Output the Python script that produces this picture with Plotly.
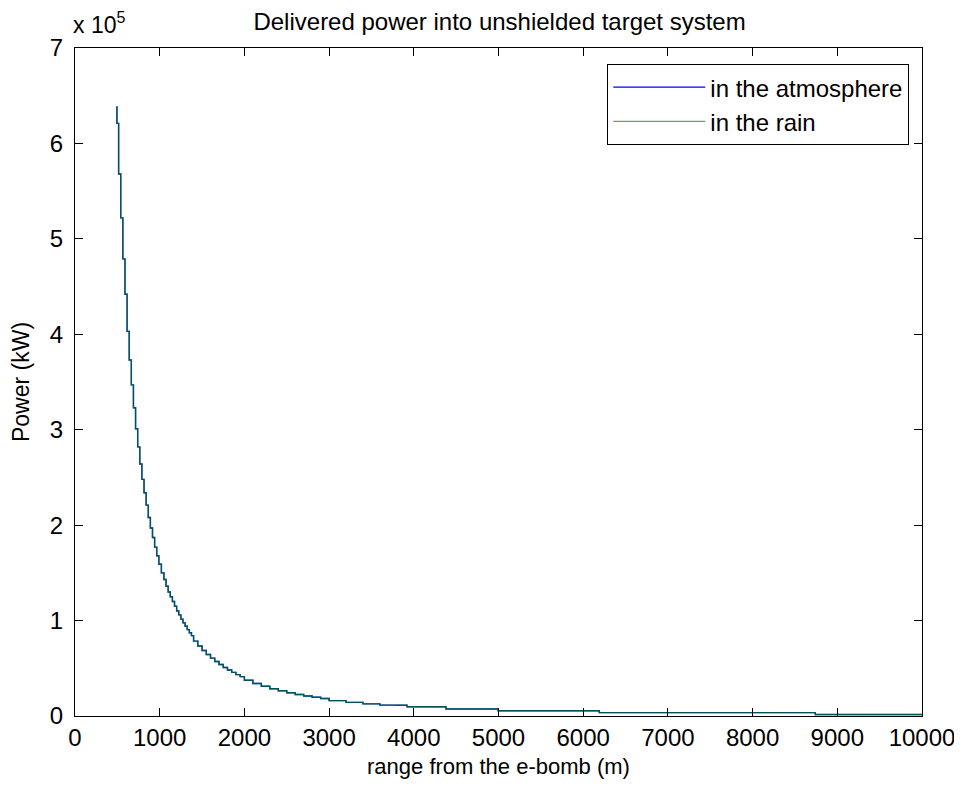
import plotly.graph_objects as go

# Range from the e-bomb (m) (stepped, quantised curve)
range_m = [495, 515, 540, 565, 590, 615, 640, 665, 690, 715, 740, 765, 790, 815, 840,
           865, 890, 915, 940, 965, 990, 1020, 1050, 1075, 1100, 1125, 1150, 1175, 1200,
           1225, 1250, 1275, 1300, 1325, 1350, 1375, 1400, 1450, 1500, 1550, 1600, 1650,
           1700, 1750, 1800, 1850, 1900, 1950, 2000, 2100, 2200, 2300, 2400, 2500, 2600,
           2700, 2800, 2900, 3000, 3200, 3400, 3600, 3800, 3920, 4380, 4995, 6190, 8740, 10000]

# Delivered power (kW) in the atmosphere
power_atmosphere = [639000, 621000, 568000, 522000, 479000, 442000, 403000, 373000, 347000,
                    323000, 301000, 282000, 264000, 248000, 234000, 221000, 208000, 197000,
                    187000, 177000, 168000, 159000, 150000, 143000, 136000, 130000, 125000,
                    120000, 115000, 110000, 106000, 101500, 97600, 94000, 90500, 87300, 84200,
                    78500, 73300, 68700, 64500, 60600, 57100, 53900, 50900, 48200, 45700,
                    43400, 41300, 37400, 34100, 31200, 28600, 26400, 24400, 22600, 21000,
                    19600, 18300, 16100, 14300, 12700, 11400, 11200, 9700, 7400, 5500, 3500, 1500]

# Delivered power (kW) in the rain (overlaps the atmosphere curve)
power_rain = [639000, 621000, 568000, 522000, 479000, 442000, 403000, 373000, 347000,
              323000, 301000, 282000, 264000, 248000, 234000, 221000, 208000, 197000,
              187000, 177000, 168000, 159000, 150000, 143000, 136000, 130000, 125000,
              120000, 115000, 110000, 106000, 101500, 97600, 94000, 90500, 87300, 84200,
              78500, 73300, 68700, 64500, 60600, 57100, 53900, 50900, 48200, 45700,
              43400, 41300, 37400, 34100, 31200, 28600, 26400, 24400, 22600, 21000,
              19600, 18300, 16100, 14300, 12700, 11400, 11200, 9700, 7400, 5500, 3500, 1400]

series_names = ["in the atmosphere", "in the rain"]
x_ticks = [0, 1000, 2000, 3000, 4000, 5000, 6000, 7000, 8000, 9000, 10000]
y_ticks = [0, 100000, 200000, 300000, 400000, 500000, 600000, 700000]
y_tick_labels = ["0", "1", "2", "3", "4", "5", "6", "7"]

FONT = "Liberation Sans, Arial, Helvetica, sans-serif"

fig = go.Figure()
fig.add_trace(go.Scatter(x=range_m, y=power_atmosphere, mode="lines", name=series_names[0],
                         line=dict(color="#0000ff", width=1.4, shape="vh")))
fig.add_trace(go.Scatter(x=range_m, y=power_rain, mode="lines", name=series_names[1],
                         line=dict(color="#008000", width=1.4, shape="vh"), opacity=0.65))

axis_common = dict(showgrid=False, zeroline=False, showline=True, linecolor="black",
                   linewidth=1, mirror="allticks", ticks="inside", ticklen=8,
                   tickcolor="black", tickwidth=1,
                   tickfont=dict(family=FONT, size=24, color="black"))

fig.update_xaxes(range=[0, 10000], tickmode="array", tickvals=x_ticks,
                 ticktext=[str(v) for v in x_ticks],
                 **axis_common)
fig.update_yaxes(range=[0, 700000], tickmode="array", tickvals=y_ticks, ticktext=y_tick_labels,
                 ticklabelstandoff=6,
                 title=dict(text="Power (kW)", standoff=20,
                            font=dict(family=FONT, size=23, color="black")),
                 **axis_common)

fig.update_layout(
    width=962, height=792,
    margin=dict(l=67, r=48, t=40, b=84, autoexpand=False),
    paper_bgcolor="white", plot_bgcolor="white",
    title=dict(text="Delivered power into unshielded target system", x=0.511, xanchor="center",
               y=0.983, yanchor="middle", font=dict(family=FONT, size=24, color="black")),
    legend=dict(x=0.985, y=0.976, xanchor="right", yanchor="top", bgcolor="white",
                bordercolor="black", borderwidth=1, font=dict(family=FONT, size=24, color="black"),
                itemwidth=92, tracegroupgap=4),
    annotations=[
        dict(text="x 10<sup>5</sup>", xref="paper", yref="paper", x=0.0, y=1.0,
             xanchor="left", yanchor="bottom", yshift=8, xshift=-4, showarrow=False,
             font=dict(family=FONT, size=23, color="black")),
        dict(text="range from the e-bomb (m)", xref="paper", yref="paper", x=0.5, y=0.0,
             xanchor="center", yanchor="top", yshift=-36, showarrow=False,
             font=dict(family=FONT, size=22, color="black")),
    ],
    showlegend=True,
)

fig.write_html("out.html")
